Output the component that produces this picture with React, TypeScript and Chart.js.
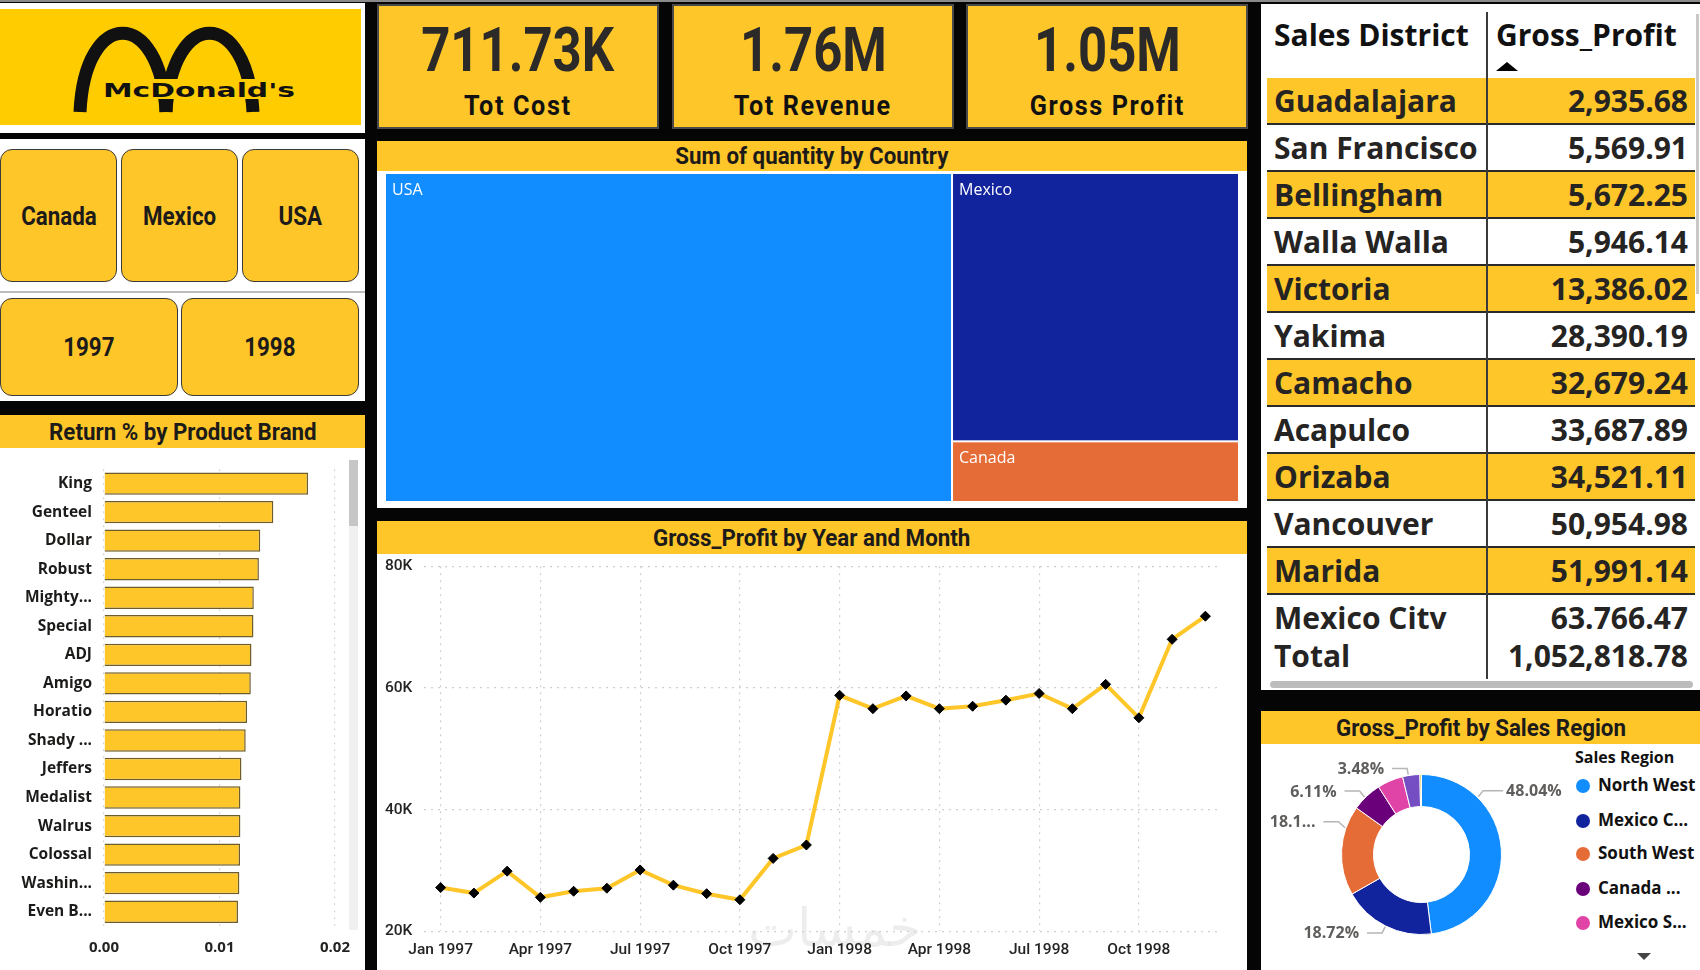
import React, { useEffect, useRef } from "react";
import { Chart, registerables } from "chart.js";

Chart.register(...registerables);

// ---------------- DATA ----------------
const kpiValues = ["711.73K", "1.76M", "1.05M"];
const kpiLabels = ["Tot Cost", "Tot Revenue", "Gross Profit"];

const countryButtons = ["Canada", "Mexico", "USA"];
const yearButtons = ["1997", "1998"];

const brandLabels = [
  "King", "Genteel", "Dollar", "Robust", "Mighty...", "Special", "ADJ", "Amigo",
  "Horatio", "Shady ...", "Jeffers", "Medalist", "Walrus", "Colossal", "Washin...", "Even B...",
];
const returnPct = [
  0.01767, 0.01466, 0.01353, 0.01341, 0.01297, 0.01294, 0.01277, 0.01271,
  0.01239, 0.01227, 0.0119, 0.01181, 0.01181, 0.01178, 0.01172, 0.0116,
];
const returnTicks = [0, 0.01, 0.02];

const countries = ["USA", "Mexico", "Canada"];
const quantities = [566223, 233709, 52850];

const months = [
  "Jan 1997", "Feb 1997", "Mar 1997", "Apr 1997", "May 1997", "Jun 1997",
  "Jul 1997", "Aug 1997", "Sep 1997", "Oct 1997", "Nov 1997", "Dec 1997",
  "Jan 1998", "Feb 1998", "Mar 1998", "Apr 1998", "May 1998", "Jun 1998",
  "Jul 1998", "Aug 1998", "Sep 1998", "Oct 1998", "Nov 1998", "Dec 1998",
];
const grossProfitMonthly = [
  27200, 26300, 29900, 25600, 26600, 27100, 30100, 27600, 26200, 25200, 32000, 34200,
  58800, 56600, 58700, 56600, 57000, 58000, 59100, 56600, 60600, 55100, 68000, 71800,
];

const districts = [
  "Guadalajara", "San Francisco", "Bellingham", "Walla Walla", "Victoria", "Yakima",
  "Camacho", "Acapulco", "Orizaba", "Vancouver", "Marida", "Mexico Citv",
];
const districtProfit = [
  "2,935.68", "5,569.91", "5,672.25", "5,946.14", "13,386.02", "28,390.19",
  "32,679.24", "33,687.89", "34,521.11", "50,954.98", "51,991.14", "63.766.47",
];
const totalLabel = "Total";
const totalProfit = "1,052,818.78";

const regions = [
  "North West", "Mexico Central", "South West", "Canada West", "Mexico South", "Mexico West", "Central West",
];
const regionLegendLabels = ["North West", "Mexico C...", "South West", "Canada ...", "Mexico S..."];
const regionShare = [48.04, 18.72, 18.13, 6.11, 5.2, 3.48, 0.32];
const regionLabelText = ["48.04%", "18.72%", "18.1...", "6.11%", "", "3.48%", ""];

// ---------------- STYLE ----------------
const YELLOW = "#FFC629";
const DARK = "#252423";
const DIN = "Roboto, 'DejaVu Sans', sans-serif";
const SEGOE = "'Open Sans', Lato, sans-serif";
const regionColors = ["#118DFF", "#12239E", "#E66C37", "#6B007B", "#E044A7", "#744EC2", "#D9B300"];
const countryColors = ["#118DFF", "#12239E", "#E66C37"];

type Cfg = () => any;

function ChartBox(props: { left: number; top: number; width: number; height: number; make: Cfg }) {
  const ref = useRef<HTMLCanvasElement>(null);
  useEffect(() => {
    const chart = new Chart(ref.current as HTMLCanvasElement, props.make());
    return () => chart.destroy();
  }, []);
  return (
    <canvas
      ref={ref}
      width={props.width}
      height={props.height}
      style={{ position: "absolute", left: props.left, top: props.top, width: props.width, height: props.height }}
    />
  );
}

function Box(props: { l: number; t: number; w: number; h: number; bg?: string; style?: any; children?: any }) {
  return (
    <div
      style={{
        position: "absolute",
        left: props.l,
        top: props.t,
        width: props.w,
        height: props.h,
        background: props.bg,
        boxSizing: "border-box",
        ...(props.style || {}),
      }}
    >
      {props.children}
    </div>
  );
}

function Din(props: { text: string; size: number; weight?: number; sx?: number; color?: string; ls?: number }) {
  return (
    <span
      style={{
        display: "inline-block",
        fontFamily: DIN,
        fontSize: props.size,
        fontWeight: props.weight ?? 500,
        color: props.color ?? DARK,
        transform: `scaleX(${props.sx ?? 0.88})`,
        letterSpacing: props.ls ?? 0,
        whiteSpace: "nowrap",
        lineHeight: 1,
      }}
    >
      {props.text}
    </span>
  );
}

function Header(props: { l: number; t: number; w: number; h: number; text: string }) {
  return (
    <Box l={props.l} t={props.t} w={props.w} h={props.h} bg={YELLOW}
      style={{ display: "flex", alignItems: "center", justifyContent: "center" }}>
      <Din text={props.text} size={24} weight={700} sx={0.93} color="#1c1b1a" />
    </Box>
  );
}

function SlicerButton(props: { l: number; t: number; w: number; h: number; text: string }) {
  return (
    <Box l={props.l} t={props.t} w={props.w} h={props.h} bg={YELLOW}
      style={{ border: "1.5px solid #3a3a3a", borderRadius: 12, display: "flex", alignItems: "center", justifyContent: "center" }}>
      <Din text={props.text} size={26} weight={700} sx={0.86} color="#1c1b1a" />
    </Box>
  );
}

// ---------------- CHART CONFIGS ----------------
const treemapPlugin = {
  id: "treemapRects",
  afterDatasetsDraw(chart: any) {
    const { ctx, scales } = chart;
    const x = scales.x, y = scales.y;
    const [usa, mex, can] = quantities;
    const total = usa + mex + can;
    const rects = [
      { x0: 0, x1: usa, y0: 0, y1: mex + can, i: 0 },
      { x0: usa, x1: total, y0: can, y1: mex + can, i: 1 },
      { x0: usa, x1: total, y0: 0, y1: can, i: 2 },
    ];
    ctx.save();
    rects.forEach((r) => {
      const px0 = x.getPixelForValue(r.x0);
      const px1 = x.getPixelForValue(r.x1);
      const py0 = y.getPixelForValue(r.y1);
      const py1 = y.getPixelForValue(r.y0);
      ctx.fillStyle = countryColors[r.i];
      ctx.fillRect(px0 + 1, py0 + 1, px1 - px0 - 2, py1 - py0 - 2);
      ctx.fillStyle = "#ffffff";
      ctx.font = `16px ${SEGOE}`;
      ctx.textAlign = "left";
      ctx.textBaseline = "top";
      ctx.fillText(countries[r.i], px0 + 7, py0 + 9);
    });
    ctx.restore();
  },
};

const makeTreemap: Cfg = () => ({
  type: "scatter",
  data: { datasets: [{ data: [] }] },
  options: {
    animation: false,
    responsive: false,
    layout: { padding: 0 },
    plugins: { legend: { display: false }, tooltip: { enabled: false } },
    scales: {
      x: { type: "linear", min: 0, max: quantities.reduce((a, b) => a + b, 0), display: false },
      y: { type: "linear", min: 0, max: quantities[1] + quantities[2], display: false },
    },
  },
  plugins: [treemapPlugin],
});

const makeLine: Cfg = () => ({
  type: "line",
  data: {
    labels: months,
    datasets: [
      {
        data: grossProfitMonthly,
        borderColor: YELLOW,
        borderWidth: 4,
        tension: 0,
        pointStyle: "rectRot",
        pointRadius: 5,
        pointBackgroundColor: "#000000",
        pointBorderColor: "#000000",
        pointBorderWidth: 1,
      },
    ],
  },
  options: {
    animation: false,
    responsive: false,
    layout: { padding: { left: 8, right: 25, top: 5, bottom: 0 } },
    plugins: { legend: { display: false }, tooltip: { enabled: false } },
    scales: {
      x: {
        offset: true,
        grid: {
          offset: false,
          drawTicks: false,
          color: (c: any) => (c.index % 3 === 0 ? "#cfcfcf" : "rgba(0,0,0,0)"),
          lineWidth: 1.2,
        },
        border: { display: false, dash: [2, 5] },
        ticks: {
          autoSkip: false,
          maxRotation: 0,
          padding: 9,
          color: DARK,
          font: { family: DIN, size: 15.5, weight: "500" },
          callback: function (this: any, v: any, i: number) {
            return i % 3 === 0 ? this.getLabelForValue(v) : "";
          },
        },
      },
      y: {
        min: 20000,
        max: 80000,
        afterFit: (s: any) => {
          s.width = 39;
        },
        grid: { drawTicks: false, color: "#cfcfcf", lineWidth: 1.2 },
        border: { display: false, dash: [2, 5] },
        ticks: {
          stepSize: 20000,
          crossAlign: "far",
          color: DARK,
          font: { family: DIN, size: 15.5, weight: "500" },
          callback: (v: any) => `${v / 1000}K`,
        },
      },
    },
  },
});

const makeBars: Cfg = () => ({
  type: "bar",
  data: {
    labels: brandLabels,
    datasets: [
      {
        data: returnPct,
        backgroundColor: YELLOW,
        borderColor: "#6d5c2c",
        borderWidth: 1.5,
        categoryPercentage: 0.8,
        barPercentage: 0.98,
      },
    ],
  },
  options: {
    indexAxis: "y",
    animation: false,
    responsive: false,
    layout: { padding: { left: 8, right: 0, top: 21, bottom: 0 } },
    plugins: { legend: { display: false }, tooltip: { enabled: false } },
    scales: {
      x: {
        min: returnTicks[0],
        max: returnTicks[returnTicks.length - 1],
        grid: { drawTicks: false, color: "#d6d6d6", lineWidth: 1.2 },
        border: { display: false, dash: [2, 5] },
        afterBuildTicks: (s: any) => {
          s.ticks = returnTicks.map((v) => ({ value: v }));
        },
        ticks: {
          padding: 13,
          color: DARK,
          font: { family: SEGOE, size: 15, weight: "bold" },
          callback: (v: any) => Number(v).toFixed(2),
        },
      },
      y: {
        afterFit: (s: any) => {
          s.width = 96;
        },
        grid: { display: false, drawTicks: false },
        border: { display: false },
        ticks: {
          padding: 12,
          autoSkip: false,
          color: "#1c1b1a",
          font: { family: SEGOE, size: 15.5, weight: "bold" },
        },
      },
    },
  },
});

const labelAnchor: Record<number, number> = { 0: 0.257, 1: 0.5, 2: 0.75, 3: 0.44, 5: 0.34 };

const donutLabelPlugin = {
  id: "donutLabels",
  afterDatasetsDraw(chart: any) {
    const ctx = chart.ctx;
    const meta = chart.getDatasetMeta(0);
    ctx.save();
    meta.data.forEach((arc: any, i: number) => {
      const text = regionLabelText[i];
      if (!text) return;
      const p = arc.getProps(["x", "y", "startAngle", "endAngle", "outerRadius"], true);
      const f = labelAnchor[i] ?? 0.5;
      const a = p.startAngle + (p.endAngle - p.startAngle) * f;
      const ax = p.x + Math.cos(a) * (p.outerRadius + 1);
      const ay = p.y + Math.sin(a) * (p.outerRadius + 1);
      const right = Math.cos(a) > 0.05;
      const up = Math.sin(a) < 0;
      const ex = ax + Math.cos(a) * 7;
      const ey = ay + (up ? -6 : 6);
      const hx = ex + (right ? 20 : -15);
      ctx.strokeStyle = "#b8b5b2";
      ctx.lineWidth = 1.5;
      ctx.beginPath();
      ctx.moveTo(ax, ay);
      ctx.lineTo(ex, ey);
      ctx.lineTo(hx, ey);
      ctx.stroke();
      ctx.fillStyle = "#605E5C";
      ctx.font = `bold 16px ${SEGOE}`;
      ctx.textBaseline = "middle";
      ctx.textAlign = right ? "left" : "right";
      ctx.fillText(text, hx + (right ? 3 : -8), ey + 1);
    });
    ctx.restore();
  },
};

const makeDonut: Cfg = () => ({
  type: "doughnut",
  data: {
    labels: regions,
    datasets: [{ data: regionShare, backgroundColor: regionColors, borderColor: "#ffffff", borderWidth: 1 }],
  },
  options: {
    animation: false,
    responsive: false,
    cutout: "60%",
    layout: { padding: { left: 80, right: 69, top: 31, bottom: 33 } },
    plugins: { legend: { display: false }, tooltip: { enabled: false } },
  },
  plugins: [donutLabelPlugin],
});

// ---------------- LAYOUT ----------------
function Logo() {
  return (
    <Box l={0} t={3} w={365} h={130} bg="#ffffff">
      <svg width={361} height={116} style={{ position: "absolute", left: 0, top: 6 }}>
        <rect x={0} y={0} width={361} height={116} fill="#FFCC00" />
        <path d="M80 103 C85 -2, 160 -2, 166 103" stroke="#111" strokeWidth={13} fill="none" />
        <path d="M166 103 C172 -2, 247 -2, 253 103" stroke="#111" strokeWidth={13} fill="none" />
        <rect x={98} y={70} width={202} height={20} fill="#FFCC00" />
        <text x={103} y={88} fontFamily="'DejaVu Sans', sans-serif" fontWeight="bold" fontSize={20}
          textLength={192} lengthAdjust="spacingAndGlyphs" fill="#111">McDonald's</text>
      </svg>
    </Box>
  );
}

function Kpis() {
  const lefts = [377, 672, 966];
  return (
    <>
      {kpiValues.map((v, i) => (
        <Box key={v} l={lefts[i]} t={4} w={282} h={125} bg={YELLOW}
          style={{ border: "2px solid #4a4a4a" }}>
          <div style={{ position: "absolute", left: 0, right: 0, top: 13, textAlign: "center" }}>
            <Din text={v} size={62} weight={700} sx={0.82} color="#2b2a29" />
          </div>
          <div style={{ position: "absolute", left: 0, right: 0, top: 86, textAlign: "center" }}>
            <Din text={kpiLabels[i]} size={28} weight={700} sx={0.9} ls={1.8} color="#111" />
          </div>
        </Box>
      ))}
    </>
  );
}

function Slicers() {
  const cx = [0, 121, 242];
  const yx = [0, 181];
  return (
    <>
      <Box l={0} t={139} w={365} h={152} bg="#ffffff" />
      <Box l={0} t={291} w={365} h={2} bg="#bdbdbd" />
      <Box l={0} t={293} w={365} h={108} bg="#ffffff" />
      {countryButtons.map((c, i) => (
        <SlicerButton key={c} l={cx[i]} t={149} w={117} h={133} text={c} />
      ))}
      {yearButtons.map((y, i) => (
        <SlicerButton key={y} l={yx[i]} t={298} w={178} h={98} text={y} />
      ))}
    </>
  );
}

function DistrictTable() {
  const L = 1267, R = 1695, D = 1486, TOP = 78, H = 47;
  const txt = { fontFamily: SEGOE, fontWeight: 700, fontSize: 30, color: DARK, whiteSpace: "nowrap" as const };
  return (
    <Box l={1261} t={4} w={439} h={686} bg="#ffffff">
      <div style={{ position: "absolute", left: 0, top: 0, width: 439, height: 686 }}>
        <div style={{ ...txt, position: "absolute", left: 1274 - 1261, top: 10, color: "#111" }}>Sales District</div>
        <div style={{ ...txt, position: "absolute", left: 1496 - 1261, top: 10, color: "#111" }}>Gross_Profit</div>
        <div style={{ position: "absolute", left: 1496 - 1261, top: 58, width: 0, height: 0, borderLeft: "11px solid transparent", borderRight: "11px solid transparent", borderBottom: "9px solid #000" }} />
        {districts.map((d, i) => (
          <div key={d} style={{
            position: "absolute", left: L - 1261, top: TOP - 4 + i * H, width: R - L, height: H,
            background: i % 2 === 0 ? YELLOW : "#ffffff",
            borderBottom: "2px solid #2a2a2a", boxSizing: "border-box",
          }}>
            <div style={{ ...txt, position: "absolute", left: 1274 - L, top: 0, height: H - 2, display: "flex", alignItems: "center" }}>{d}</div>
            <div style={{ ...txt, position: "absolute", right: R - 1688, top: 0, height: H - 2, display: "flex", alignItems: "center" }}>{districtProfit[i]}</div>
          </div>
        ))}
        <div style={{ position: "absolute", left: L - 1261, top: 633 - 4, width: R - L, height: 44, background: "#ffffff" }}>
          <div style={{ ...txt, position: "absolute", left: 1274 - L, top: 0, height: 44, display: "flex", alignItems: "center" }}>{totalLabel}</div>
          <div style={{ ...txt, position: "absolute", right: R - 1688, top: 0, height: 44, display: "flex", alignItems: "center" }}>{totalProfit}</div>
        </div>
        <div style={{ position: "absolute", left: D - 1261, top: 8, width: 1.5, height: 667, background: "#3a3a3a" }} />
        <div style={{ position: "absolute", left: 1270 - 1261, top: 677, width: 423, height: 7, borderRadius: 4, background: "#bcbcbc" }} />
        <div style={{ position: "absolute", left: 1696 - 1261, top: 10, width: 3, height: 280, background: "#c8c8c8" }} />
      </div>
    </Box>
  );
}

function DonutLegend() {
  const ys = [786, 821, 854, 889, 923];
  return (
    <>
      <div style={{ position: "absolute", left: 1575, top: 758 - 12, fontFamily: SEGOE, fontWeight: 700, fontSize: 16, color: "#111", whiteSpace: "nowrap" }}>Sales Region</div>
      {regionLegendLabels.map((r, i) => (
        <React.Fragment key={r}>
          <div style={{ position: "absolute", left: 1576, top: ys[i] - 7, width: 14, height: 14, borderRadius: 7, background: regionColors[i] }} />
          <div style={{ position: "absolute", left: 1598, top: ys[i] - 13, fontFamily: SEGOE, fontWeight: 700, fontSize: 17, color: "#111", whiteSpace: "nowrap" }}>{r}</div>
        </React.Fragment>
      ))}
      <div style={{ position: "absolute", left: 1637, top: 953, width: 0, height: 0, borderLeft: "7px solid transparent", borderRight: "7px solid transparent", borderTop: "7px solid #444" }} />
    </>
  );
}

export default function App() {
  return (
    <div style={{ position: "fixed", left: 0, top: 0, width: 1700, height: 970, background: "#050505", overflow: "hidden" }}>
      <Box l={0} t={0} w={1700} h={2} bg="#8a8a8a" />
      <Logo />
      <Kpis />
      <Slicers />

      {/* Return % by Product Brand */}
      <Header l={0} t={415} w={365} h={33} text="Return % by Product Brand" />
      <Box l={0} t={448} w={365} h={522} bg="#ffffff" />
      <ChartBox left={0} top={448} width={363} height={522} make={makeBars} />
      <Box l={349} t={460} w={9} h={470} bg="#f0f0f0" />
      <Box l={349} t={460} w={9} h={66} bg="#c6c6c6" />

      {/* Treemap */}
      <Header l={377} t={141} w={870} h={30} text="Sum of quantity by Country" />
      <Box l={377} t={171} w={870} h={337} bg="#ffffff" />
      <ChartBox left={385} top={173} width={854} height={329} make={makeTreemap} />

      {/* Line chart */}
      <Header l={377} t={521} w={870} h={33} text="Gross_Profit by Year and Month" />
      <Box l={377} t={554} w={870} h={416} bg="#ffffff" />
      <div style={{ position: "absolute", left: 748, top: 898, fontFamily: "'DejaVu Sans', sans-serif", fontSize: 52, color: "rgba(0,0,0,0.07)", whiteSpace: "nowrap" }}>خمسات</div>
      <ChartBox left={377} top={554} width={870} height={414} make={makeLine} />

      {/* Table */}
      <DistrictTable />

      {/* Donut */}
      <Header l={1261} t={711} w={439} h={33} text="Gross_Profit by Sales Region" />
      <Box l={1261} t={744} w={439} h={226} bg="#ffffff" />
      <ChartBox left={1261} top={743} width={310} height={225} make={makeDonut} />
      <DonutLegend />
    </div>
  );
}
